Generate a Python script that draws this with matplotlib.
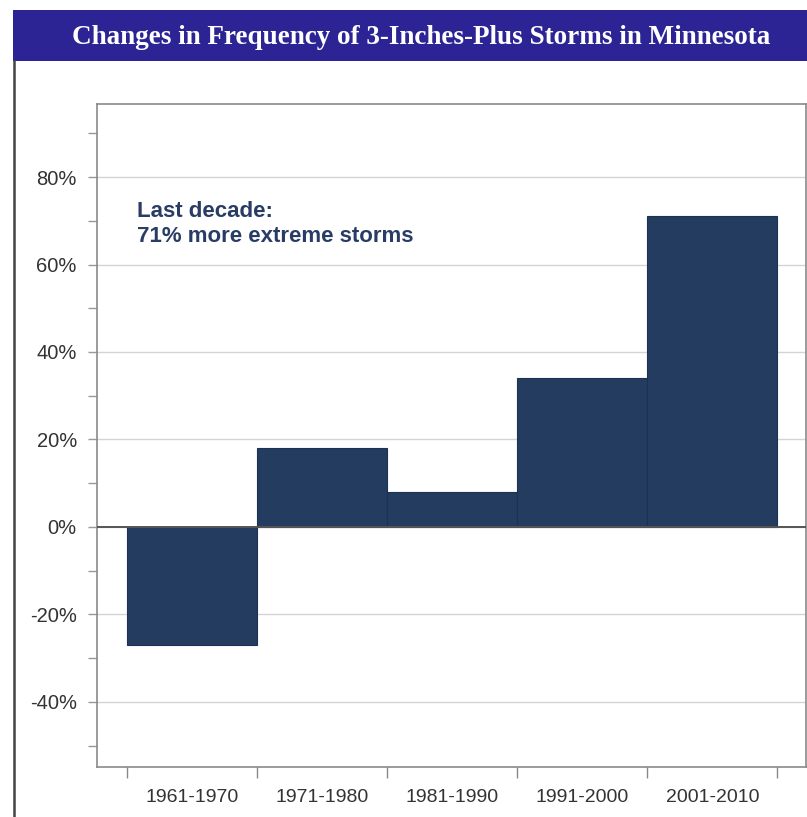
import matplotlib
matplotlib.use("Agg")
import matplotlib.pyplot as plt
from matplotlib.patches import Rectangle
from matplotlib.lines import Line2D
from matplotlib.ticker import FuncFormatter, FixedLocator

# ---- data ----
decades = ["1961-1970", "1971-1980", "1981-1990", "1991-2000", "2001-2010"]
change_pct = [-27, 18, 8, 34, 71]
y_ticks = [-40, -20, 0, 20, 40, 60, 80]
title = "Changes in Frequency of 3-Inches-Plus Storms in Minnesota"
note_lines = ["Last decade:", "71% more extreme storms"]

W, H = 807, 817
fig = plt.figure(figsize=(W / 100, H / 100), dpi=100)
fig.patch.set_facecolor("white")

def fx(px):
    return px / W

def fy(py):
    return 1 - py / H

# banner
fig.patches.append(Rectangle((fx(13), fy(61)), fx(807) - fx(13), fy(10) - fy(61),
                             transform=fig.transFigure, facecolor="#2c2494",
                             edgecolor="none", zorder=0))
fig.text(fx(421), fy(37), title, color="white", fontsize=19.5, fontweight="bold",
         family="Liberation Serif", ha="center", va="center")
# left frame line
fig.lines.append(Line2D([fx(14), fx(14)], [fy(61), fy(817)], transform=fig.transFigure,
                        color="#444444", linewidth=1.8))

ax = fig.add_axes([fx(97), fy(767), fx(806) - fx(97), fy(104) - fy(767)])
x = list(range(len(decades)))
ax.bar(x, change_pct, width=1.0, color="#243c60", edgecolor="#1d3253", linewidth=0.8, zorder=3)

ax.set_xlim(-0.73, 4.72)
ax.set_ylim(-54.9, 96.7)

ax.yaxis.set_major_locator(FixedLocator(y_ticks))
ax.yaxis.set_minor_locator(FixedLocator([-50, -30, -10, 10, 30, 50, 70, 90]))
ax.yaxis.set_major_formatter(FuncFormatter(lambda v, p: f"{int(v)}%"))
ax.grid(axis="y", which="major", color="#d4d4d4", linewidth=1.0, zorder=0)
ax.axhline(0, color="#555555", linewidth=1.4, zorder=4)

ax.set_xticks(x)
ax.set_xticklabels(decades)
ax.set_xticks([i - 0.5 for i in range(len(decades) + 1)], minor=True)
ax.tick_params(axis="x", which="major", length=0, pad=16, labelsize=14, labelcolor="#333333")
ax.tick_params(axis="x", which="minor", length=8, color="#888888", width=1.0)
ax.tick_params(axis="y", which="both", length=6.5, color="#999999", width=1.0,
               labelsize=14.5, labelcolor="#333333", pad=8)

for s in ax.spines.values():
    s.set_color("#8a8a8a")
    s.set_linewidth(1.2)

for t in ax.get_xticklabels() + ax.get_yticklabels():
    t.set_family("Liberation Sans")

fig.text(fx(137), fy(217), note_lines[0], color="#283c64", fontsize=16, fontweight="bold",
         family="Liberation Sans", ha="left", va="baseline")
fig.text(fx(137), fy(242), note_lines[1], color="#283c64", fontsize=16, fontweight="bold",
         family="Liberation Sans", ha="left", va="baseline")

fig.savefig("out.png", dpi=100)
